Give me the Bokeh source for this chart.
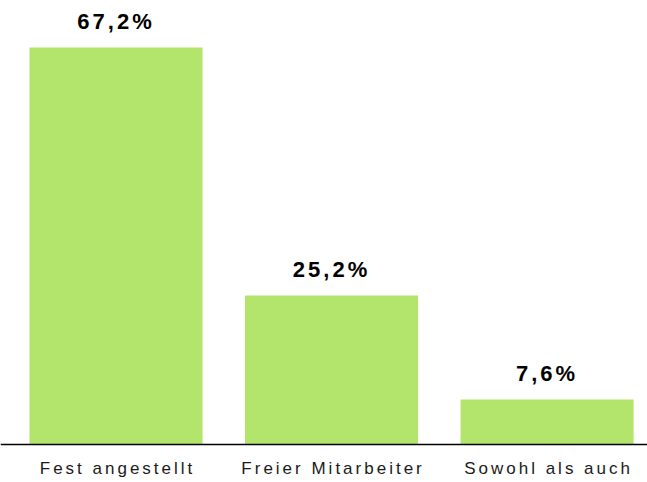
from bokeh.plotting import figure
from bokeh.models import ColumnDataSource, Range1d, Span, InlineStyleSheet
from bokeh.core.properties import value
from bokeh.embed import file_html
from bokeh.resources import INLINE

categories = ["Fest angestellt", "Freier Mitarbeiter", "Sowohl als auch"]
values = [67.2, 25.2, 7.6]
value_labels = [f"{v:.1f}".replace(".", ",") + "%" for v in values]
positions = list(range(len(categories)))

FONT = "Liberation Sans"
LS = 3.0  # letter spacing in px (CSS); Bokeh anchors text at its start, so re-centre
source = ColumnDataSource(data=dict(
    x=positions, top=values, zero=[0] * len(values),
    label=value_labels, cat=categories,
    label_dx=[-len(s) * LS / 2 for s in value_labels],
    cat_dx=[-(len(s) - 1) * LS / 2 for s in categories],
))

p = figure(width=647, height=482, output_backend="svg", toolbar_location=None,
           x_range=Range1d(-0.536, 2.466), y_range=Range1d(-6.43, 75.15),
           x_axis_location=None, y_axis_location=None,
           min_border_left=0, min_border_right=0,
           min_border_top=0, min_border_bottom=0)

p.vbar(x="x", top="top", width=0.803, source=source, color="#b3e46c", line_color=None)

p.add_layout(Span(location=0, dimension="width", line_color="#000000", line_width=1.3))

p.text(x="x", y="top", text="label", source=source, y_offset=-26, x_offset="label_dx",
       text_align="center", text_baseline="alphabetic",
       text_font=value(FONT), text_font_style="bold",
       text_font_size="22px", text_color="#000000")

p.text(x="x", y="zero", text="cat", source=source, y_offset=24, x_offset="cat_dx",
       text_align="center", text_baseline="alphabetic",
       text_font=value(FONT), text_font_size="17px",
       text_color="#1a1a1a")

p.xgrid.visible = False
p.ygrid.visible = False
p.outline_line_color = None
p.stylesheets = [InlineStyleSheet(css=f":host {{ letter-spacing: {LS}px; }}")]

open("out.html", "w").write(file_html(p, INLINE))
